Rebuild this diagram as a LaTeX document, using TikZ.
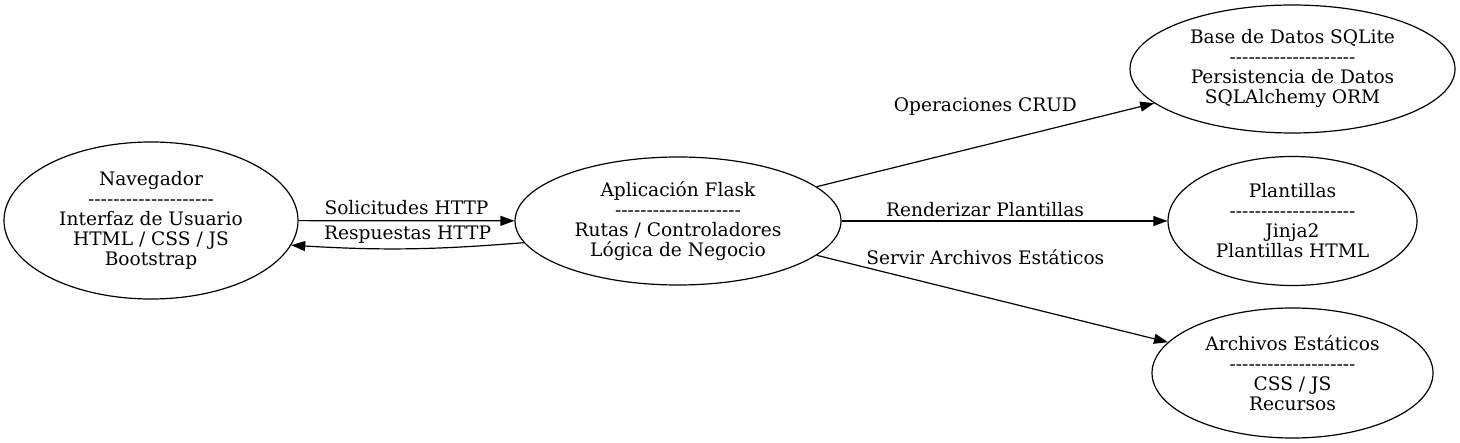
\documentclass[tikz,border=0pt]{standalone}
\usepackage{fontspec}
\setmainfont{DejaVu Serif}
\usetikzlibrary{shapes.geometric, arrows.meta}

\newcommand{\sepline}{-{}-{}-{}-{}-{}-{}-{}-{}-{}-{}-{}-{}-{}-{}-{}-{}-{}-{}-{}-{}}

\begin{document}
\begin{tikzpicture}[x=0.5pt, y=-0.5pt,
    comp/.style={draw, ellipse, line width=0.6pt, inner sep=0pt, align=center,
        font=\fontsize{9.3}{10}\selectfont},
    link/.style={-{Triangle[length=7pt, width=5pt]}, line width=0.6pt},
    lbl/.style={font=\fontsize{9.3}{10}\selectfont, inner sep=1pt}]
    \useasboundingbox (0,0) rectangle (1460,443);

    % Components
    \node[comp, minimum width=147pt, minimum height=78.5pt] (nav) at (151,220.5)
        {Navegador\\\sepline\\Interfaz de Usuario\\HTML / CSS / JS\\Bootstrap};
    \node[comp, minimum width=163pt, minimum height=64pt] (flask) at (678,221)
        {Aplicación Flask\\\sepline\\Rutas / Controladores\\Lógica de Negocio};
    \node[comp, minimum width=162.5pt, minimum height=64pt] (db) at (1292.5,69)
        {Base de Datos SQLite\\\sepline\\Persistencia de Datos\\SQLAlchemy ORM};
    \node[comp, minimum width=124.5pt, minimum height=64.5pt] (tpl) at (1292.5,221)
        {Plantillas\\\sepline\\Jinja2\\Plantillas HTML};
    \node[comp, minimum width=140.5pt, minimum height=65pt] (static) at (1292.5,373)
        {Archivos Estáticos\\\sepline\\CSS / JS\\Recursos};

    % Requests and responses
    \draw[link] (nav) -- node[lbl, yshift=6.5pt] {Solicitudes HTTP} (flask);
    \draw[link] (flask.188) to[bend left=4] node[lbl, yshift=7pt] {Respuestas HTTP} (nav.-10);

    % Back end
    \draw[link] (flask) -- node[lbl, yshift=19pt] {Operaciones CRUD} (db);
    \draw[link] (flask) -- node[lbl, xshift=-9.75pt, yshift=5.5pt] {Renderizar Plantillas} (tpl);
    \draw[link] (flask) -- node[lbl, xshift=-3.5pt, yshift=21pt] {Servir Archivos Estáticos} (static);

\end{tikzpicture}
\end{document}
